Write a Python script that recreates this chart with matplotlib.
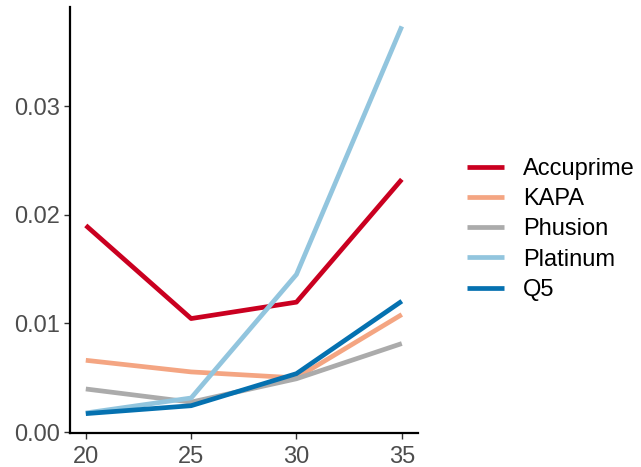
import matplotlib
matplotlib.use("Agg")
import matplotlib.pyplot as plt

plt.rcParams['font.family'] = ['Liberation Sans', 'DejaVu Sans']

cycles = [20, 25, 30, 35]
series_names = ["Accuprime", "KAPA", "Phusion", "Platinum", "Q5"]
accuprime = [0.01901, 0.01044, 0.01195, 0.02325]
kapa = [0.0066, 0.00553, 0.00498, 0.01081]
phusion = [0.00396, 0.00275, 0.0049, 0.00814]
platinum = [0.00175, 0.00313, 0.0145, 0.03733]
q5 = [0.00169, 0.00242, 0.00537, 0.01204]
colors = ["#CA0020", "#F4A582", "#ABABAB", "#92C5DE", "#0571B0"]
yticks = [0.0, 0.01, 0.02, 0.03]
ytick_labels = ["0.00", "0.01", "0.02", "0.03"]
xticks = [20, 25, 30, 35]

values = [accuprime, kapa, phusion, platinum, q5]

fig = plt.figure(figsize=(6.41, 4.67), dpi=100)
ax = fig.add_axes([70/641, 1 - 433/467, 347.6/641, 426/467])

for name, vals, c in zip(series_names, values, colors):
    ax.plot(cycles, vals, color=c, linewidth=3.4, label=name, solid_capstyle='butt')

allv = [v for s in values for v in s]
ymin, ymax = min(allv), max(allv)
pad = 0.05 * (ymax - ymin)
ax.set_ylim(ymin - pad, ymax + pad)
ax.set_xlim(19.25, 35.75)

ax.set_xticks(xticks)
ax.set_yticks(yticks)
ax.set_yticklabels(ytick_labels)

for s in ["top", "right"]:
    ax.spines[s].set_visible(False)
for s in ["left", "bottom"]:
    ax.spines[s].set_linewidth(1.6)
    ax.spines[s].set_color("black")

ax.tick_params(axis='both', labelsize=17, labelcolor="#4D4D4D", colors="#333333",
               length=4.5, width=1.0, pad=3)
ax.tick_params(axis='x', pad=5)
ax.tick_params(axis='both', labelcolor="#4D4D4D")

leg = ax.legend(loc='center left', bbox_to_anchor=(466.7/641, 1 - 229.5/467),
                bbox_transform=fig.transFigure, frameon=False, fontsize=17,
                handlelength=1.57, handletextpad=0.83, labelspacing=0.35,
                borderpad=0, borderaxespad=0)
for line in leg.get_lines():
    line.set_linewidth(3.4)

fig.savefig("out.png", dpi=100)
